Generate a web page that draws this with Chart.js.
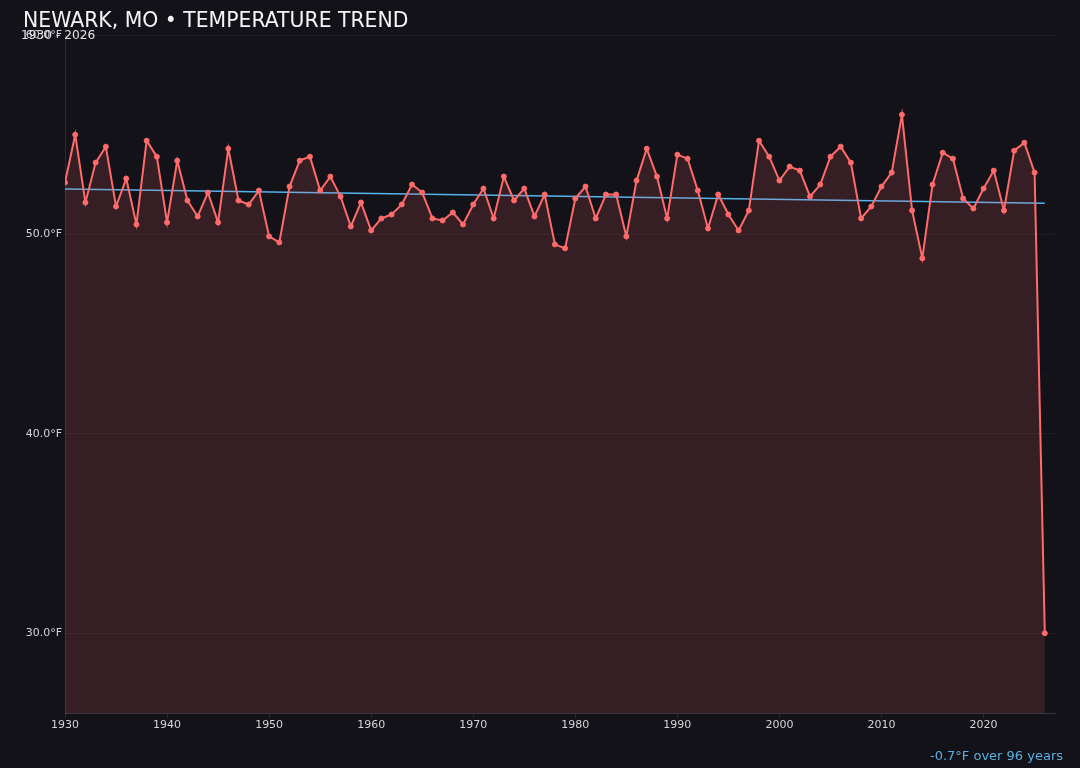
<!DOCTYPE html>
<html>
<head>
<meta charset="utf-8">
<title>Newark, MO temperature trend</title>
<script src="https://cdn.jsdelivr.net/npm/chart.js@4.4.1/dist/chart.umd.min.js"></script>
<style>
    html, body {
        margin: 0;
        padding: 0;
        background: #131218;
    }
    #wrap {
        position: relative;
        width: 1080px;
        height: 768px;
        font-family: "DejaVu Sans", sans-serif;
    }
    #tempChart {
        position: absolute;
        left: 0;
        top: 0;
    }
    .overlay {
        position: absolute;
        white-space: nowrap;
    }
    #title {
        left: 23px;
        top: 10px;
        font-size: 20.4px;
        line-height: 20px;
        color: #f4f4f6;
    }
    #subtitle {
        left: 21px;
        top: 29px;
        font-size: 12.2px;
        line-height: 12px;
        color: #e2e2e6;
    }
    #footer {
        right: 17px;
        top: 749px;
        font-size: 13px;
        line-height: 13px;
        color: #58b0e2;
    }
</style>
</head>
<body>
<div id="wrap">
    <canvas id="tempChart" width="1080" height="768"></canvas>
    <div id="title" class="overlay">NEWARK, MO • TEMPERATURE TREND</div>
    <div id="subtitle" class="overlay">1930 - 2026</div>
    <div id="footer" class="overlay">-0.7°F over 96 years</div>
</div>
<script>
// Annual mean temperature (°F)
const years = [
    1930, 1931, 1932, 1933, 1934, 1935, 1936, 1937, 1938, 1939,
    1940, 1941, 1942, 1943, 1944, 1945, 1946, 1947, 1948, 1949,
    1950, 1951, 1952, 1953, 1954, 1955, 1956, 1957, 1958, 1959,
    1960, 1961, 1962, 1963, 1964, 1965, 1966, 1967, 1968, 1969,
    1970, 1971, 1972, 1973, 1974, 1975, 1976, 1977, 1978, 1979,
    1980, 1981, 1982, 1983, 1984, 1985, 1986, 1987, 1988, 1989,
    1990, 1991, 1992, 1993, 1994, 1995, 1996, 1997, 1998, 1999,
    2000, 2001, 2002, 2003, 2004, 2005, 2006, 2007, 2008, 2009,
    2010, 2011, 2012, 2013, 2014, 2015, 2016, 2017, 2018, 2019,
    2020, 2021, 2022, 2023, 2024, 2025, 2026,
];

const temps = [
    52.6, 55.0, 51.6, 53.6, 54.4, 51.4, 52.8, 50.5, 54.7, 53.9,
    50.6, 53.7, 51.7, 50.9, 52.1, 50.6, 54.3, 51.7, 51.5, 52.2,
    49.9, 49.6, 52.4, 53.7, 53.9, 52.2, 52.9, 51.9, 50.4, 51.6,
    50.2, 50.8, 51.0, 51.5, 52.5, 52.1, 50.8, 50.7, 51.1, 50.5,
    51.5, 52.3, 50.8, 52.9, 51.7, 52.3, 50.9, 52.0, 49.5, 49.3,
    51.8, 52.4, 50.8, 52.0, 52.0, 49.9, 52.7, 54.3, 52.9, 50.8,
    54.0, 53.8, 52.2, 50.3, 52.0, 51.0, 50.2, 51.2, 54.7, 53.9,
    52.7, 53.4, 53.2, 51.9, 52.5, 53.9, 54.4, 53.6, 50.8, 51.4,
    52.4, 53.1, 56.0, 51.2, 48.8, 52.5, 54.1, 53.8, 51.8, 51.3,
    52.3, 53.2, 51.2, 54.2, 54.6, 53.1, 30.0,
];

// Linear trend endpoints
const trendYears = [1930, 2026];
const trendTemps = [52.28, 51.56];

const xTicks = [1930, 1940, 1950, 1960, 1970, 1980, 1990, 2000, 2010, 2020];
const yLabelled = [30, 40, 50, 60];

const FONT = "'DejaVu Sans', sans-serif";
const TEXT_COLOR = "#d4d4d8";

function initChart() {
    const canvas = document.getElementById("tempChart");

    const tempPoints = years.map((yr, i) => ({ x: yr, y: temps[i] }));
    const trendPoints = trendYears.map((yr, i) => ({ x: yr, y: trendTemps[i] }));

    new Chart(canvas, {
        type: "line",
        data: {
            datasets: [
                {
                    label: "Temperature",
                    data: tempPoints,
                    borderColor: "#ff6b6b",
                    backgroundColor: "rgba(255, 107, 107, 0.15)",
                    pointBackgroundColor: "#ff6b6b",
                    pointBorderColor: "#ff6b6b",
                    borderWidth: 2,
                    pointRadius: 2.5,
                    pointBorderWidth: 1,
                    tension: 0,
                    fill: "start",
                },
                {
                    label: "Trend",
                    data: trendPoints,
                    borderColor: "#55b4ee",
                    borderWidth: 1.5,
                    pointRadius: 0,
                    tension: 0,
                    fill: false,
                },
            ],
        },
        options: {
            responsive: false,
            animation: false,
            events: [],
            layout: {
                padding: { left: 0, right: 25, top: 35, bottom: 30 },
            },
            plugins: {
                legend: { display: false },
                title: { display: false },
                tooltip: { enabled: false },
            },
            scales: {
                x: {
                    type: "linear",
                    min: 1930,
                    max: 2027,
                    afterBuildTicks: (scale) => {
                        scale.ticks = xTicks.map((v) => ({ value: v }));
                    },
                    afterFit: (scale) => {
                        scale.height = 25;
                    },
                    ticks: {
                        font: { family: FONT, size: 11 },
                        color: TEXT_COLOR,
                        padding: 2,
                        maxRotation: 0,
                        callback: (value) => String(value),
                    },
                    grid: {
                        drawOnChartArea: false,
                        drawTicks: true,
                        tickLength: 4,
                        color: "rgba(255, 255, 255, 0.12)",
                    },
                    border: {
                        color: "rgba(255, 255, 255, 0.14)",
                    },
                },
                y: {
                    min: 26,
                    max: 60,
                    afterFit: (scale) => {
                        scale.width = 65;
                    },
                    ticks: {
                        stepSize: 1,
                        maxTicksLimit: 40,
                        autoSkip: false,
                        font: { family: FONT, size: 11 },
                        color: TEXT_COLOR,
                        padding: 3,
                        callback: (value) =>
                            yLabelled.includes(value) ? value.toFixed(1) + "°F" : "",
                    },
                    grid: {
                        drawTicks: false,
                        color: (ctx) =>
                            ctx.tick && yLabelled.includes(ctx.tick.value)
                                ? "rgba(255, 255, 255, 0.05)"
                                : "rgba(255, 255, 255, 0.015)",
                    },
                    border: {
                        color: "rgba(255, 255, 255, 0.10)",
                    },
                },
            },
        },
    });
}

initChart();
</script>
</body>
</html>
